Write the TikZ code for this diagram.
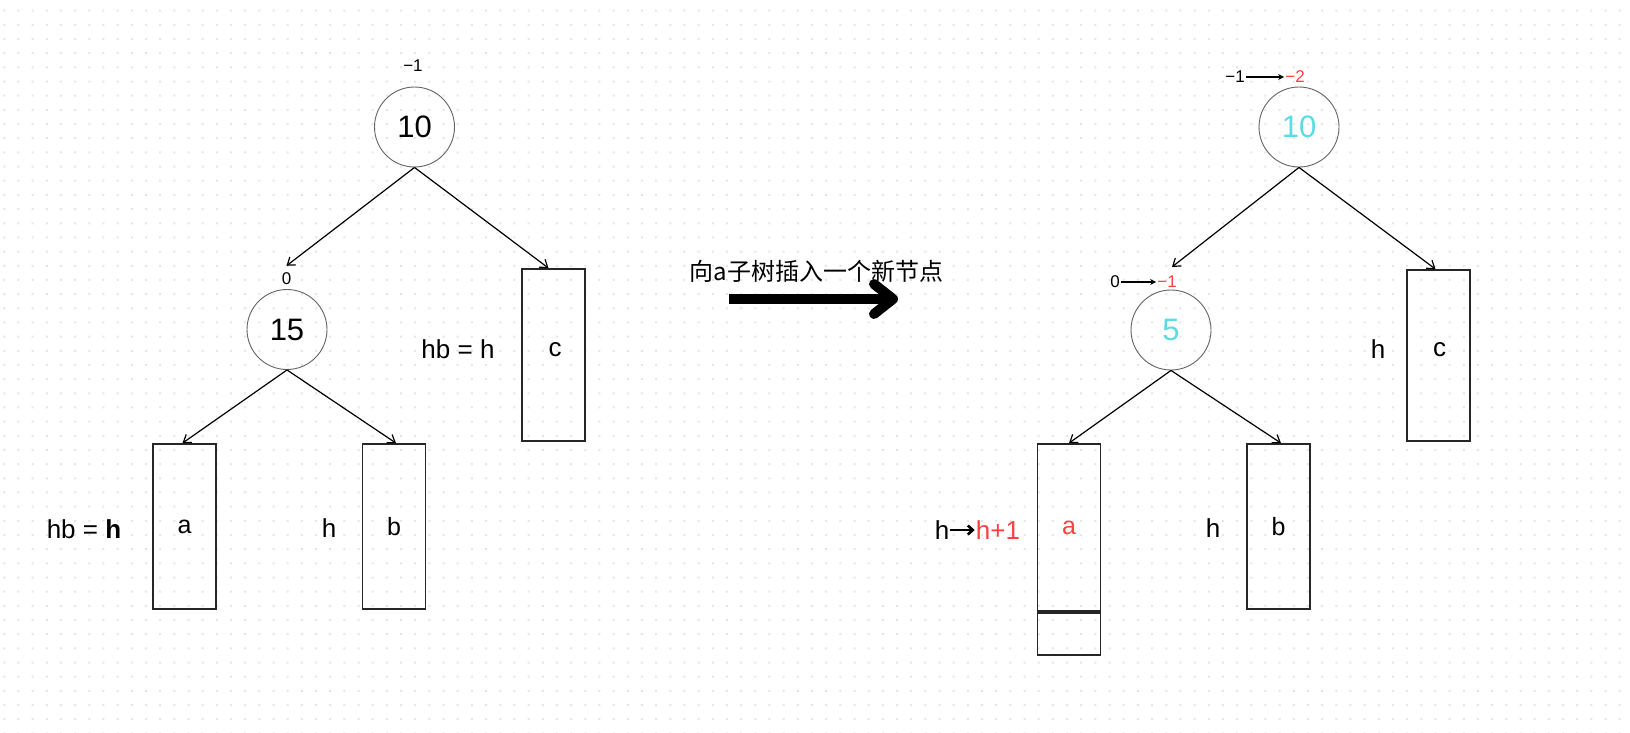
\documentclass[tikz,border=0pt]{standalone}
\usepackage{fontspec}
\setmainfont{Liberation Sans}
\newfontfamily\cjk{Noto Sans CJK SC}
\usetikzlibrary{arrows.meta}
\definecolor{dotc}{RGB}{230,230,230}
\definecolor{myred}{RGB}{255,64,64}
\definecolor{mycyan}{RGB}{90,220,230}
\definecolor{circc}{RGB}{100,100,100}
\begin{document}
\begin{tikzpicture}[x=1pt,y=-1pt,
  circ/.style={circle, draw=circc, line width=0.9, minimum size=80, inner sep=0, font=\fontsize{31}{31}\selectfont},
  box/.style={draw=black!85, line width=1.8, minimum width=63, inner sep=0, font=\fontsize{25}{25}\selectfont},
  txt/.style={font=\fontsize{26}{26}\selectfont, inner sep=1},
  small/.style={font=\fontsize{17}{17}\selectfont, inner sep=1},
  conn/.style={-{Straight Barb[length=7,width=10]}, line width=1.2},
  bigarrow/.style={line width=10}
]
\useasboundingbox[fill=white] (0,0) rectangle (1630,732);
% dot grid
\foreach \j in {0,...,51}{
  \fill[dotc] foreach \i in {0,...,114}{ (3.3+\i*14.17, 9.7+\j*14.17) rectangle ++(2,2) };
}
% ---------- left tree ----------
\node[small] (lm1) at (413,66) {−1};
\node[circ] (ltop) at (414.5,127) {10};
\node[small] (l0) at (286.5,279) {0};
\node[circ] (l15) at (287,329.5) {15};
\node[box, minimum height=172] (lc) at (553.5,355) {};
\node[txt] (lct) at (555,350) {c};
\node[txt] (lhbc) at (458,349.5) {hb = h};
\node[box, minimum height=165] (la) at (184.5,526.5) {a};
\node[box, minimum height=165] (lb) at (394,526.5) {b};
\node[txt] (lhba) at (84,529) {hb = \textbf{h}};
\node[txt] (lhb) at (329,528.5) {h};
\draw[conn] (ltop.south) -- ([yshift=6]l0.north);
\draw[conn] (ltop.south) -- ([xshift=-5]lc.north);
\draw[conn] (l15.south) -- ([xshift=-2]la.north);
\draw[conn] (l15.south) -- ([xshift=2]lb.north);
% ---------- middle ----------
\node[font=\cjk\fontsize{24}{24}\selectfont, inner sep=0] (title) at (816.5,271) {向a子树插入一个新节点};
\coordinate (bs) at (729,299);
\coordinate (be) at (893,299);
\draw[bigarrow] (bs) -- (be);
\draw[bigarrow, line cap=round, line join=round] (874,284) -- (be) -- (874,314);
% ---------- right tree ----------
\node[small] (rm1) at (1235,77) {−1};
\node[small, text=myred] (rm2) at (1295,77) {−2};
\draw[-{Stealth[length=6,width=6]}, line width=1.3] (rm1.east) -- (rm2.west);
\node[circ, text=mycyan] (rtop) at (1299,127) {10};
\node[small] (r00) at (1115,282) {0};
\node[small, text=myred] (r01) at (1167,282) {−1};
\draw[-{Stealth[length=6,width=6]}, line width=1.3] (r00.east) -- (r01.west);
\node[circ, text=mycyan] (r5) at (1171,330) {5};
\node[box, minimum height=171] (rc) at (1438.5,355.5) {};
\node[txt] (rct) at (1439.5,350) {c};
\node[txt] (rhc) at (1378,349.5) {h};
\node[box, minimum height=167, text=myred] (ra) at (1069,527.5) {a};
\node[box, minimum height=42, anchor=north] (rext) at (ra.south) {};
\node[box, minimum height=165] (rb) at (1278.5,526.5) {b};
\node[txt] (rhb) at (1213,528.5) {h};
\node[txt] (rh0) at (942,530) {h};
\node[txt, text=myred] (rh1) at (998,530) {h+1};
\draw[-{Straight Barb[length=5,width=9]}, line width=2.6] (rh0.east) -- (rh1.west);
\draw[conn] (rtop.south) -- ([xshift=5,yshift=8]r01.north);
\draw[conn] (rtop.south) -- ([xshift=-3]rc.north);
\draw[conn] (r5.south) -- (ra.north);
\draw[conn] (r5.south) -- ([xshift=2.5]rb.north);
\end{tikzpicture}
\end{document}
